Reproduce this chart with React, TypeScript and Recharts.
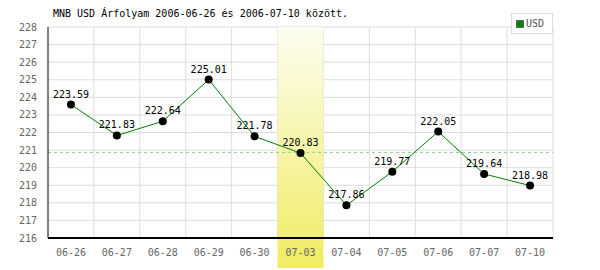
import React from "react";
import {
  LineChart,
  Line,
  XAxis,
  YAxis,
  CartesianGrid,
  ReferenceLine,
  ReferenceArea,
  LabelList,
} from "recharts";

const dates = [
  "06-26", "06-27", "06-28", "06-29", "06-30", "07-03",
  "07-04", "07-05", "07-06", "07-07", "07-10",
];
const usd = [
  223.59, 221.83, 222.64, 225.01, 221.78, 220.83,
  217.86, 219.77, 222.05, 219.64, 218.98,
];
const yTicks = [216, 217, 218, 219, 220, 221, 222, 223, 224, 225, 226, 227, 228];
const avgLevel = 220.87;
const highlightDate = "07-03";

const FONT = "'DejaVu Sans Mono', monospace";

const HighlightShape = (props: any) => {
  const { x, y, width, height } = props;
  return (
    <rect x={x} y={y} width={width} height={height + 30} fill="url(#hlGrad)" />
  );
};

const LegendBox = () => (
  <div
    style={{
      position: "absolute",
      left: 511,
      top: 13,
      border: "1px solid #dddddd",
      background: "#fff",
      width: 42,
      height: 21,
      boxSizing: "border-box",
      display: "flex",
      alignItems: "center",
      paddingLeft: 4,
      fontFamily: FONT,
      fontSize: 10,
      color: "#555",
      zIndex: 2,
    }}
  >
    <span
      style={{
        display: "inline-block",
        width: 6,
        height: 6,
        background: "#008000",
        border: "1px solid #666",
        marginRight: 2,
      }}
    />
    USD
  </div>
);

export default function App() {
  const data = dates.map((d, i) => ({ date: d, usd: usd[i] }));
  const n = dates.length;

  return (
    <div style={{ position: "absolute", left: 0, top: 0, width: 600, height: 270, background: "#fff" }}>
      <div
        style={{
          position: "absolute",
          left: 53,
          top: 8,
          fontFamily: FONT,
          fontSize: 10,
          color: "#000",
          whiteSpace: "nowrap",
          lineHeight: "12px",
        }}
      >
        MNB USD Árfolyam 2006-06-26 és 2006-07-10 között.
      </div>
      <LineChart
        width={600}
        height={270}
        data={data}
        margin={{ top: 27, right: 47, left: 0, bottom: 0 }}
      >
        <defs>
          <linearGradient id="hlGrad" x1="0" y1="0" x2="0" y2="1">
            <stop offset="0%" stopColor="#fdfdf2" />
            <stop offset="100%" stopColor="#f0ec60" />
          </linearGradient>
        </defs>
        <CartesianGrid
          stroke="#dddddd"
          strokeWidth={1}
          verticalCoordinatesGenerator={({ offset }: any) =>
            Array.from({ length: n }, (_, i) => offset.left + ((i + 1) * offset.width) / n)
          }
        />
        <XAxis
          dataKey="date"
          scale="band"
          axisLine={{ stroke: "#000", strokeWidth: 2 }}
          tickLine={false}
          tickMargin={5}
          height={32}
          interval={0}
          tick={{ fill: "#666", fontSize: 10, fontFamily: FONT }}
        />
        <YAxis
          domain={[216, 228]}
          ticks={yTicks}
          width={48}
          axisLine={{ stroke: "#000", strokeWidth: 1 }}
          tickLine={false}
          tickMargin={5}
          interval={0}
          tick={{ fill: "#666", fontSize: 10, fontFamily: FONT }}
        />
        <ReferenceLine
          y={avgLevel}
          stroke="#88cc88"
          strokeDasharray="3 3"
          strokeWidth={1}
        />
        <ReferenceArea
          x1={highlightDate}
          x2={highlightDate}
          ifOverflow="visible"
          shape={HighlightShape}
        />
        <Line
          type="linear"
          dataKey="usd"
          name="USD"
          stroke="#008000"
          strokeWidth={1}
          dot={{ r: 4, fill: "#000", stroke: "#000", strokeWidth: 0 }}
          isAnimationActive={false}
        >
          <LabelList
            dataKey="usd"
            position="top"
            offset={7}
            fill="#000"
            fontSize={10}
            fontFamily={FONT}
            formatter={(v: any) => Number(v).toFixed(2)}
          />
        </Line>
      </LineChart>
      <LegendBox />
    </div>
  );
}
